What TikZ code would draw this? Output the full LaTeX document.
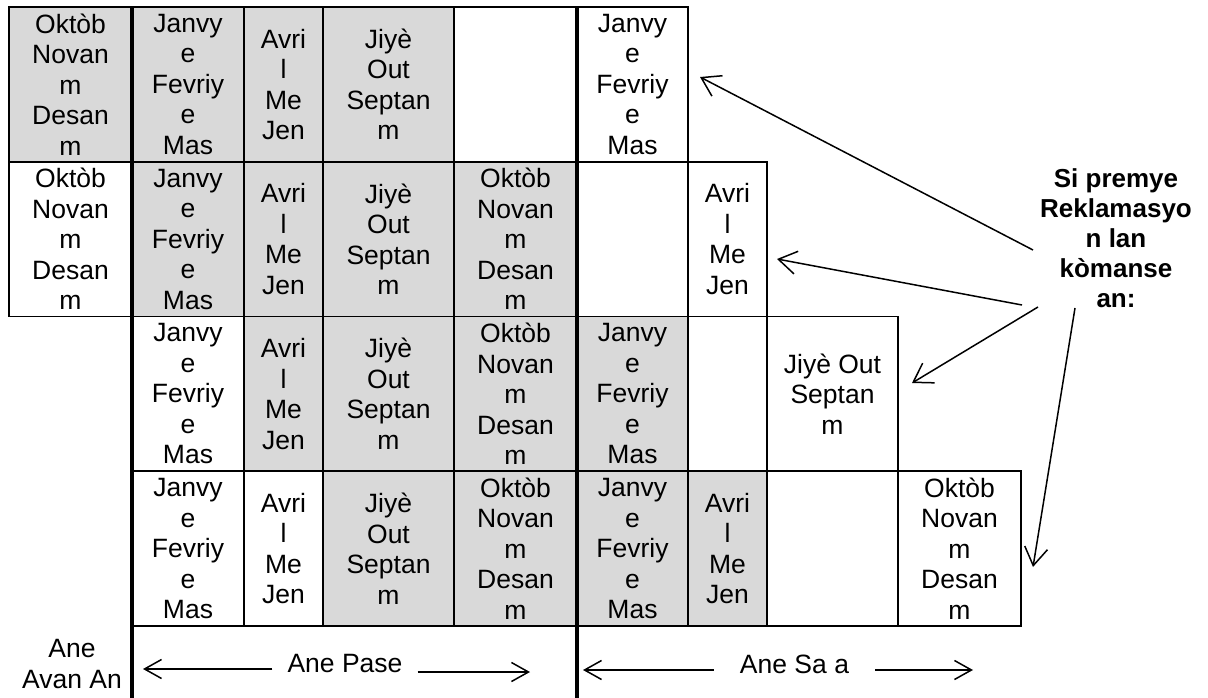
\documentclass[tikz,border=0pt]{standalone}
\usepackage{fontspec}
\setmainfont{Liberation Sans}
\usetikzlibrary{arrows.meta}
\definecolor{cellgray}{RGB}{217,217,217}
\newcommand{\okt}{Oktòb\\Novan\\m\\Desan\\m}
\newcommand{\jan}{Janvy\\e\\Fevriy\\e\\Mas}
\newcommand{\avr}{Avri\\l\\Me\\Jen}
\newcommand{\jiy}{Jiyè\\Out\\Septan\\m}
\begin{document}
\begin{tikzpicture}[x=1pt,y=-1pt,
  every node/.style={font=\fontsize{26.5pt}{30.5pt}\selectfont},
  cell/.style={draw,line width=1.8pt,inner sep=0pt,outer sep=0pt,align=center,minimum height=154.75pt},
  gr/.style={cell,fill=cellgray},
  wh/.style={cell,fill=white},
  wd0/.style={minimum width=123pt},
  wd1/.style={minimum width=112pt},
  wd2/.style={minimum width=79pt},
  wd3/.style={minimum width=131pt},
  wd4/.style={minimum width=123pt},
  wd5/.style={minimum width=111pt},
  wd6/.style={minimum width=79pt},
  wd7/.style={minimum width=131pt},
  wd8/.style={minimum width=123pt},
  rule/.style={line width=3.5pt},
  barb/.style={line width=1.5pt,-{Straight Barb[length=18pt,width=23pt]}},
  span/.style={line width=1.5pt,-{Straight Barb[length=17pt,width=19pt]}}]

\useasboundingbox (0,0) rectangle (1208,698);

% first row
\node[gr,wd0] (r0c0) at (70.5,84.375) {\okt};
\node[gr,wd1] (r0c1) at (188,84.375) {\jan};
\node[gr,wd2] (r0c2) at (283.5,84.375) {\avr};
\node[gr,wd3] (r0c3) at (388.5,84.375) {\jiy};
\node[wh,wd4] (r0c4) at (515.5,84.375) {};
\node[wh,wd5] (r0c5) at (632.5,84.375) {\jan};

% second row
\node[wh,wd0] (r1c0) at (70.5,239.125) {\okt};
\node[gr,wd1] (r1c1) at (188,239.125) {\jan};
\node[gr,wd2] (r1c2) at (283.5,239.125) {\avr};
\node[gr,wd3] (r1c3) at (388.5,239.125) {\jiy};
\node[gr,wd4] (r1c4) at (515.5,239.125) {\okt};
\node[wh,wd5] (r1c5) at (632.5,239.125) {};
\node[wh,wd6] (r1c6) at (727.5,239.125) {\avr};

% third row
\node[wh,wd1] (r2c1) at (188,393.875) {\jan};
\node[gr,wd2] (r2c2) at (283.5,393.875) {\avr};
\node[gr,wd3] (r2c3) at (388.5,393.875) {\jiy};
\node[gr,wd4] (r2c4) at (515.5,393.875) {\okt};
\node[gr,wd5] (r2c5) at (632.5,393.875) {\jan};
\node[wh,wd6] (r2c6) at (727.5,393.875) {};
\node[wh,wd7] (r2c7) at (832.5,393.875) {Jiyè Out\\Septan\\m};

% fourth row
\node[wh,wd1] (r3c1) at (188,548.625) {\jan};
\node[wh,wd2] (r3c2) at (283.5,548.625) {\avr};
\node[gr,wd3] (r3c3) at (388.5,548.625) {\jiy};
\node[gr,wd4] (r3c4) at (515.5,548.625) {\okt};
\node[gr,wd5] (r3c5) at (632.5,548.625) {\jan};
\node[gr,wd6] (r3c6) at (727.5,548.625) {\avr};
\node[wh,wd7] (r3c7) at (832.5,548.625) {};
\node[wh,wd8] (r3c8) at (959.5,548.625) {\okt};

% the two thick rules
\draw[rule] (r0c0.north east) -- (r0c0.north east |- 0,698);
\draw[rule] (r0c4.north east) -- (r0c4.north east |- 0,698);

% bottom line
\node[align=center] (avan) at (72,664) {Ane\\Avan An};
\node[inner xsep=15pt] (pase) at (345,664) {Ane Pase};
\node[inner xsep=26pt] (saa) at (794.5,664) {Ane Sa a};
\coordinate (pl) at (143,669);
\coordinate (pr) at (530,672);
\coordinate (sl) at (583,670);
\coordinate (sr) at (973,670);
\draw[span] (pase.west |- pl) -- (pl);
\draw[span] (pase.east |- pr) -- (pr);
\draw[span] (saa.west |- sl) -- (sl);
\draw[span] (saa.east |- sr) -- (sr);

% label and its arrows
\node[align=center,inner sep=0pt,font=\fontsize{26pt}{30pt}\selectfont\bfseries] (lbl) at (1116,238) {Si premye\\Reklamasyo\\n lan\\kòmanse\\an:};
\coordinate (s1) at (1033,250);
\coordinate (s2) at (1022,305);
\coordinate (s3) at (1038,307);
\coordinate (s4) at (1075,308);
\coordinate (t1) at (700,77);
\coordinate (t2) at (777,259);
\coordinate (t3) at (912,383);
\coordinate (t4) at (1033,567);
\draw[barb] (s1) -- (t1);
\draw[barb] (s2) -- (t2);
\draw[barb] (s3) -- (t3);
\draw[barb] (s4) -- (t4);

\end{tikzpicture}
\end{document}
